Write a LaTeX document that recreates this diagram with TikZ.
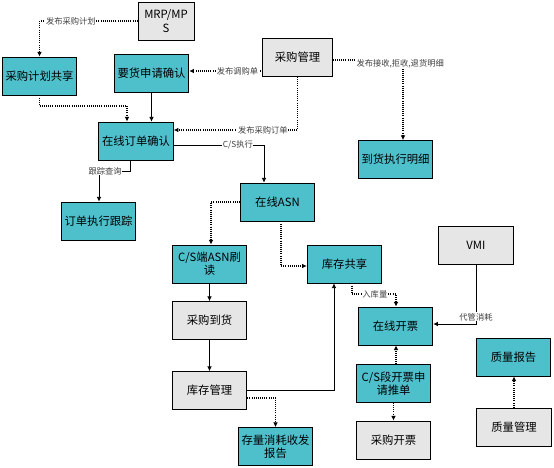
\documentclass[tikz,border=0pt]{standalone}
\usepackage{fontspec}
\setmainfont{Noto Sans CJK SC}
\usetikzlibrary{arrows.meta}
\definecolor{boxteal}{HTML}{4EC0CC}
\definecolor{boxgray}{HTML}{E6E6E6}
\begin{document}
\begin{tikzpicture}[x=0.75pt, y=-0.75pt,
  blk/.style={draw, line width=0.6pt, minimum width=56pt, minimum height=28.5pt, align=center, font=\fontsize{8.5}{10}\selectfont, inner sep=1pt},
  tbox/.style={blk, fill=boxteal},
  gbox/.style={blk, fill=boxgray},
  lbl/.style={fill=white, inner sep=0.5pt, font=\fontsize{6.2}{7}\selectfont, text=black!75},
  arr/.style={-{Latex[length=3.5pt,width=3.5pt]}, line width=0.6pt},
  darr/.style={arr, densely dotted, line width=0.8pt}]
\useasboundingbox (0,0) rectangle (554,468);
\node[gbox, minimum width=42pt] (mrp) at (166,21){MRP/MP\\S};
\node[tbox] (jhgx) at (39.5,76){采购计划共享};
\node[tbox] (yhsq) at (151.5,73){要货申请确认};
\node[gbox, minimum width=52pt] (cggl) at (297.5,57.5){采购管理};
\node[tbox] (zxdd) at (136,141){在线订单确认};
\node[tbox] (dhmx) at (395.5,159.5){到货执行明细};
\node[tbox] (ddgz) at (98.5,221){订单执行跟踪};
\node[tbox] (asn) at (277.5,202){在线ASN};
\node[tbox] (csasn) at (209.5,264){C/S端ASN刷\\读};
\node[tbox] (kcgx) at (344.5,264){库存共享};
\node[gbox] (vmi) at (476,245){VMI};
\node[gbox] (cgdh) at (209.5,320.5){采购到货};
\node[tbox] (zxkp) at (395.5,326){在线开票};
\node[tbox] (zlbg) at (513.5,357){质量报告};
\node[gbox] (kcgl) at (209.5,390.5){库存管理};
\node[tbox] (cskp) at (393.5,383.5){C/S段开票申\\请推单};
\node[tbox] (clbg) at (275.5,446.5){存量消耗收发\\报告};
\node[gbox] (cgkp) at (393.5,440){采购开票};
\node[gbox] (zlgl) at (514,427){质量管理};
\draw[darr](mrp.west) -| node[lbl, pos=0.34]{发布采购计划} (jhgx.north);
\draw[darr](cggl.west |- 0,71) -- node[lbl, pos=0.34]{发布调购单} (yhsq.east |- 0,71);
\draw[darr](jhgx.south) |- (127,106) -- (zxdd.north -| 127,0);
\draw[arr](yhsq.south) -- (zxdd.north -| yhsq.south);
\draw[darr](cggl.south) |- node[lbl, pos=0.64]{发布采购订单} (zxdd.east |- 0,130);
\draw[arr](zxdd.east |- 0,145) -| node[lbl, pos=0.355]{C/S执行} (asn.north -| 264,0);
\draw[darr](cggl.east |- 0,60) -| node[lbl, pos=0.48, yshift=-3pt]{发布接收,拒收,退货明细} (dhmx.north -| 403,0);
\draw[arr](zxdd.south -| 130,0) |- node[lbl, pos=0.9]{跟踪查询} (99,171) -- (ddgz.north -| 99,0);
\draw[darr](asn.west) -| (csasn.north -| 211,0);
\draw[darr](asn.south -| 281,0) |- (kcgx.west |- 0,266);
\draw[arr](csasn.south) -- (cgdh.north);
\draw[arr](cgdh.south) -- (kcgl.north);
\draw[arr](kcgl.east) -| (kcgx.south -| 334,0);
\draw[darr](kcgl.east |- 0,398) -| (clbg.north);
\draw[darr](kcgx.south -| 352,0) |- node[lbl, pos=0.76]{入库量} (396,294) -- (zxkp.north -| 396,0);
\draw[arr](vmi.south) |- node[lbl, pos=0.44]{代管消耗} (zxkp.east |- 0,324);
\draw[darr](cskp.north -| 396,0) -- (zxkp.south -| 396,0);
\draw[darr](cskp.south) -- (cgkp.north);
\draw[darr](zlgl.north) -- (zlbg.south -| zlgl.north);
\end{tikzpicture}
\end{document}
